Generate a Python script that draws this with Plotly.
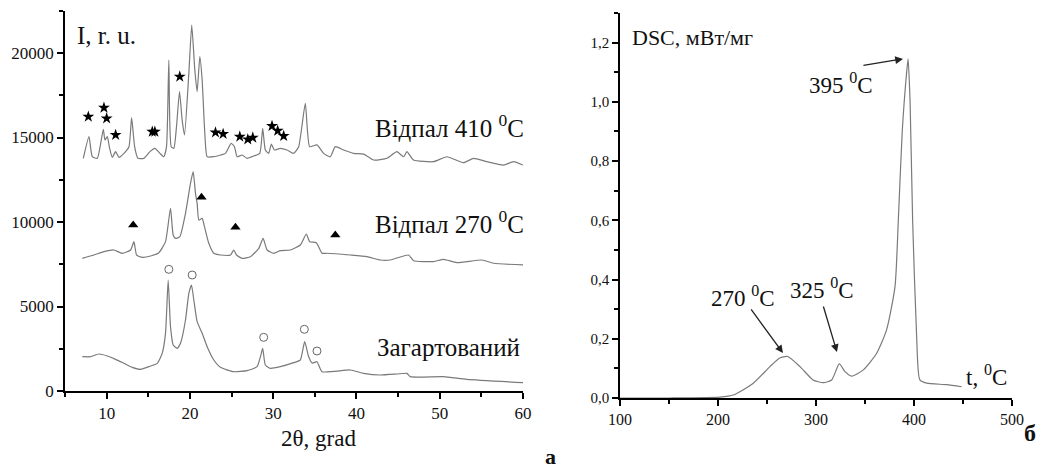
import plotly.graph_objects as go

W, H = 1045, 468
OFF = 8  # browser default body margin

# ---------- XRD data (left panel) ----------
x410 = [7.20, 7.88, 8.28, 8.88, 9.60, 9.80, 10.08, 10.36, 10.68, 11.08, 11.48, 12.08, 12.68, 13.00, 13.36, 13.76,
        14.48, 15.20, 15.80, 16.40, 16.87, 17.19, 17.47, 17.75, 18.07, 18.39, 18.75, 19.07, 19.35, 19.87, 20.22,
        20.59, 20.87, 21.19, 21.47, 21.79, 22.07, 22.87, 23.67, 24.27, 24.95, 25.35, 25.67, 26.27, 26.87, 27.67,
        28.39, 28.74, 29.06, 29.46, 29.78, 30.14, 30.86, 31.66, 32.46, 33.06, 33.86, 34.38, 35.26, 36.06, 36.86,
        37.46, 38.46, 39.66, 40.86, 42.06, 43.66, 44.86, 45.66, 46.06, 46.86, 49.26, 50.86, 52.86, 54.06, 55.66,
        57.66, 58.86, 60.0]
y410 = [13767, 15049, 13865, 13767, 15483, 14852, 15049, 14359, 13826, 14162, 13826, 14063, 14457, 16173, 14457, 13767,
        13767, 14162, 14359, 14063, 13865, 14457, 19585, 14457, 14359, 15641, 17712, 16035, 15148, 18796, 21650,
        18994, 17712, 19782, 18402, 15246, 13865, 13865, 13964, 14063, 14654, 14457, 13865, 13964, 13767, 13905,
        14063, 15542, 14260, 14063, 14615, 14260, 14359, 14260, 14063, 14457, 17021, 14457, 14560, 14060, 13860,
        14460, 14260, 14060, 14020, 13670, 13770, 14160, 13860, 14160, 13670, 13570, 13860, 13510, 13770, 13570,
        13370, 13570, 13370]

x270 = [7.08, 8.48, 9.68, 10.88, 11.88, 12.88, 13.28, 13.60, 14.28, 15.28, 16.27, 17.07, 17.67, 17.99, 18.27,
        18.79, 19.47, 20.07, 20.39, 20.67, 20.87, 21.07, 21.47, 21.75, 22.27, 22.87, 23.67, 24.87, 25.27, 25.59,
        26.27, 27.27, 28.27, 28.79, 29.27, 30.07, 30.87, 32.06, 33.26, 33.98, 34.38, 35.18, 35.86, 36.46, 39.26,
        41.26, 42.86, 44.06, 46.26, 46.86, 49.26, 50.46, 52.06, 55.06, 56.46, 60.0]
y270 = [7850, 8047, 8244, 8343, 8146, 8343, 8836, 8047, 7909, 7988, 8185, 8836, 10808, 9231, 9033,
        9132, 10513, 12288, 12978, 11696, 11105, 10118, 10217, 9724, 8738, 8146, 8047, 8047, 8343, 8047,
        7850, 7948, 8442, 9033, 8343, 8146, 8304, 8343, 8639, 9290, 8836, 8775, 8150, 8150, 8047,
        7950, 7750, 7750, 8047, 7710, 7660, 7790, 7600, 7750, 7560, 7460]

xq = [7.08, 8.08, 9.08, 10.08, 11.08, 12.08, 13.08, 14.08, 15.08, 16.08, 16.67, 17.07, 17.39, 17.67, 17.99,
      18.47, 18.87, 19.47, 19.87, 20.19, 20.47, 20.87, 21.47, 22.07, 22.87, 23.67, 25.27, 26.87, 28.07, 28.47,
      28.74, 29.06, 29.66, 30.86, 32.46, 33.26, 33.78, 34.26, 34.7, 35.26, 35.86, 39.26, 40.86, 42.86, 44.86,
      46.06, 46.46, 50.46, 53.26, 60.0]
yq = [2031, 2031, 2189, 2071, 1874, 1637, 1400, 1282, 1440, 1637, 2229, 3412, 6568, 3807, 2722,
      2525, 2821, 4201, 5779, 6272, 5384, 4103, 3412, 2623, 1834, 1400, 1144, 1203, 1440, 2031,
      2525, 1538, 1341, 1440, 1676, 1834, 2919, 2031, 1650, 1735, 1144, 1243, 1046, 947, 1006,
      1046, 848, 848, 690, 493]

star_x = [7.80, 9.68, 10.0, 11.08, 15.48, 15.79, 18.78, 23.07, 23.99, 25.99, 26.95, 27.55, 29.86, 30.54, 31.26]
star_y = [16230, 16760, 16130, 15150, 15340, 15340, 18600, 15300, 15210, 15050, 14890, 14990, 15680, 15400, 15090]
tri_x = [13.19, 21.39, 25.47, 37.46]
tri_y = [9820, 11460, 9685, 9230]
circ_x = [17.47, 20.27, 28.86, 33.74, 35.26]
circ_y = [7200, 6864, 3176, 3650, 2367]

# ---------- DSC data (right panel) ----------
t_dsc = [100, 150, 202, 215.6, 236, 253, 263, 271, 283.7, 297, 307.5, 316, 323.8, 329.6, 336.4, 348.3,
         361.9, 372, 380.6, 384, 388, 392.5, 394, 396, 398.6, 402.7, 406, 412.9, 433.3, 448.6]
dsc = [0.0, 0.0, 0.003, 0.01, 0.05, 0.106, 0.135, 0.14, 0.106, 0.061, 0.052, 0.061, 0.115, 0.089, 0.074, 0.095,
       0.151, 0.23, 0.376, 0.60, 0.90, 1.10, 1.145, 1.0, 0.6, 0.207, 0.061, 0.05, 0.045, 0.038]

left_xticks = [10, 20, 30, 40, 50, 60]
left_yticks = [0, 5000, 10000, 15000, 20000]
right_xticks = [100, 200, 300, 400, 500]
right_yticks = [0.0, 0.2, 0.4, 0.6, 0.8, 1.0, 1.2]
right_ytext = ["0,0", "0,2", "0,4", "0,6", "0,8", "1,0", "1,2"]

FONT = "Liberation Serif"
LINE = "#7a7a7a"

def px(x):
    return (x - OFF) / W

def py(y):
    return 1 - (y - OFF) / H

fig = go.Figure()
for xs, ys in [(x410, y410), (x270, y270), (xq, yq)]:
    fig.add_trace(go.Scatter(x=xs, y=ys, mode="lines",
                             line=dict(color=LINE, width=1.2, shape="spline", smoothing=0.5),
                             xaxis="x", yaxis="y", showlegend=False, hoverinfo="skip"))
fig.add_trace(go.Scatter(x=star_x, y=star_y, mode="markers",
                         marker=dict(symbol="star", size=9, color="black"),
                         xaxis="x", yaxis="y", showlegend=False))
fig.add_trace(go.Scatter(x=tri_x, y=tri_y, mode="markers",
                         marker=dict(symbol="triangle-up", size=9, color="black"),
                         xaxis="x", yaxis="y", showlegend=False))
fig.add_trace(go.Scatter(x=circ_x, y=circ_y, mode="markers",
                         marker=dict(symbol="circle-open", size=8, color="#666", line=dict(width=1)),
                         xaxis="x", yaxis="y", showlegend=False))
fig.add_trace(go.Scatter(x=t_dsc, y=dsc, mode="lines",
                         line=dict(color=LINE, width=1.2, shape="spline", smoothing=0.6),
                         xaxis="x2", yaxis="y2", showlegend=False))

def axstyle(size):
    return dict(showline=True, linecolor="black", linewidth=1.5, ticks="outside", ticklen=6,
                tickcolor="black", tickwidth=1.5, showgrid=False, zeroline=False, automargin=False,
                tickfont=dict(family=FONT, size=size, color="#111"))

fig.update_layout(
    width=W, height=H, margin=dict(l=0, r=0, t=0, b=0),
    paper_bgcolor="white", plot_bgcolor="white",
    font=dict(family=FONT, color="#111"),
    xaxis=dict(domain=[px(65), px(523)], range=[5, 60], tickvals=left_xticks, anchor="y",
               minor=dict(tick0=5, dtick=5, ticks="outside", ticklen=4, tickcolor="black"), **axstyle(17)),
    yaxis=dict(domain=[py(391), py(10.75)], range=[0, 22500], tickvals=left_yticks, tickformat="d", anchor="x",
               minor=dict(tick0=0, dtick=2500, ticks="outside", ticklen=4, tickcolor="black"), **axstyle(17)),
    xaxis2=dict(domain=[px(620), px(1012)], range=[100, 500], tickvals=right_xticks, anchor="y2",
                minor=dict(tick0=100, dtick=50, ticks="outside", ticklen=4, tickcolor="black"), **axstyle(16)),
    yaxis2=dict(domain=[py(398), py(13)], range=[0, 1.3], tickvals=right_yticks, ticktext=right_ytext, anchor="x2",
                minor=dict(tick0=0, dtick=0.1, ticks="outside", ticklen=4, tickcolor="black"), **axstyle(15)),
)

def txt(x, y, s, size=22, bold=False, xanchor="center"):
    fig.add_annotation(x=px(x), y=py(y), xref="paper", yref="paper", text=("<b>%s</b>" % s) if bold else s,
                       showarrow=False, xanchor=xanchor, yanchor="middle",
                       font=dict(family=FONT, size=size, color="#111"))

txt(75, 35, "I, r. u.", 25, xanchor="left")
txt(449, 126, "Відпал 410 <sup>0</sup>C", 25)
txt(449, 222, "Відпал 270 <sup>0</sup>C", 25)
txt(448, 347, "Загартований", 25)
txt(318, 438, "2θ, grad", 23)
txt(550, 456, "а", 22, bold=True)
txt(630, 37, "DSC, мВт/мг", 22, xanchor="left")
txt(841, 84, "395 <sup>0</sup>C", 23)
txt(743, 296, "270 <sup>0</sup>C", 23)
txt(822, 288, "325 <sup>0</sup>C", 23)
txt(986, 375, "t, <sup>0</sup>C", 23)
txt(1030, 433, "б", 24, bold=True)

def arrow(hx, hy, tx, ty):
    fig.add_annotation(x=hx, y=hy, ax=tx, ay=ty, xref="x2", yref="y2", axref="x2", ayref="y2",
                       text="", showarrow=True, arrowhead=2, arrowsize=1.2, arrowwidth=1.3, arrowcolor="#222")

arrow(388.8, 1.145, 346.9, 1.122)
arrow(266.3, 0.152, 232.7, 0.304)
arrow(321.4, 0.155, 307.1, 0.314)

fig.write_html("out.html")
